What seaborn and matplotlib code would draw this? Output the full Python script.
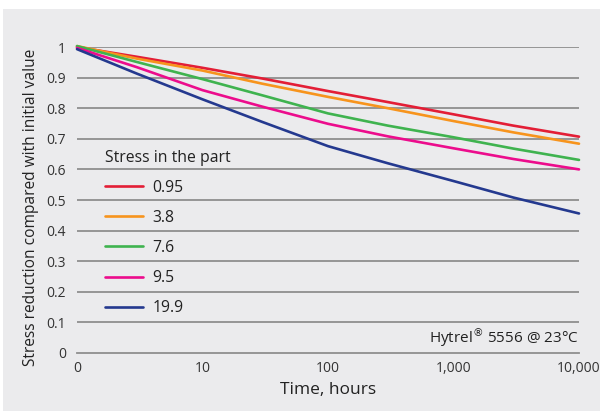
import numpy as np
import pandas as pd
import seaborn as sns
import matplotlib.pyplot as plt
from matplotlib.patches import Rectangle

# data (time in hours, log axis; "0" sits at t=1)
hours = [1, 3, 10, 30, 100, 300, 1000, 3000, 10000]
stress_levels = ["0.95", "3.8", "7.6", "9.5", "19.9"]
ratio_095 = [1.000, 0.968, 0.932, 0.897, 0.856, 0.820, 0.780, 0.743, 0.707]
ratio_38 = [1.003, 0.962, 0.923, 0.880, 0.837, 0.800, 0.758, 0.721, 0.684]
ratio_76 = [1.003, 0.951, 0.895, 0.842, 0.783, 0.743, 0.705, 0.668, 0.631]
ratio_95 = [0.997, 0.934, 0.859, 0.805, 0.749, 0.708, 0.669, 0.634, 0.600]
ratio_199 = [0.993, 0.913, 0.829, 0.755, 0.676, 0.620, 0.562, 0.508, 0.456]
xtick_vals = [1, 10, 100, 1000, 10000]
xtick_labels = ["0", "10", "100", "1,000", "10,000"]
ytick_vals = [0, 0.1, 0.2, 0.3, 0.4, 0.5, 0.6, 0.7, 0.8, 0.9, 1.0]
ytick_labels = ["0", "0.1", "0.2", "0.3", "0.4", "0.5", "0.6", "0.7", "0.8", "0.9", "1"]

colors = ["#e31e36", "#f7941d", "#3fb34f", "#ec0c8c", "#24398f"]

series = [ratio_095, ratio_38, ratio_76, ratio_95, ratio_199]
df = pd.concat([
    pd.DataFrame({"hours": hours, "ratio": vals, "stress": s})
    for s, vals in zip(stress_levels, series)
])

bg = "#ebebed"
txt = "#222222"
sns.set_style("white", {"axes.facecolor": bg})
plt.rcParams["font.family"] = ["Open Sans", "DejaVu Sans"]
plt.rcParams["mathtext.fontset"] = "dejavusans"

fig = plt.figure(figsize=(6.0, 4.11), dpi=100, facecolor=bg)
# white strip at top and left edge
fig.patches.append(Rectangle((0, 1 - 9 / 411), 1, 9 / 411, transform=fig.transFigure,
                             facecolor="white", edgecolor="none", zorder=0))
fig.patches.append(Rectangle((0, 0), 3 / 600, 1, transform=fig.transFigure,
                             facecolor="white", edgecolor="none", zorder=0))

ax = fig.add_axes([77 / 600, 1 - 353 / 411, 502 / 600, 306 / 411])
ax.set_facecolor(bg)

sns.lineplot(data=df, x="hours", y="ratio", hue="stress", hue_order=stress_levels,
             palette=dict(zip(stress_levels, colors)), linewidth=1.9, ax=ax,
             legend=True)
for ln in ax.lines:
    ln.set_clip_on(False)

ax.set_xscale("log")
ax.set_xlim(1, 10000)
ax.set_ylim(0, 1)

# horizontal grid
for v in ytick_vals[1:]:
    ax.axhline(v, color="#8e8e8e", linewidth=1.3, zorder=0.5)

for side in ["top", "right", "left"]:
    ax.spines[side].set_visible(False)
ax.spines["bottom"].set_color("#8e8e8e")
ax.spines["bottom"].set_linewidth(1.3)

ax.set_xticks(xtick_vals)
ax.set_xticklabels(xtick_labels)
ax.xaxis.set_minor_locator(plt.NullLocator())
ax.tick_params(axis="x", direction="out", length=4, width=1.1, color="#8e8e8e",
               labelsize=10, labelcolor="#333333", pad=2)
ax.set_yticks(ytick_vals)
ax.set_yticklabels(ytick_labels)
ax.tick_params(axis="y", length=0, labelsize=10, labelcolor="#333333", pad=8)

ax.set_xlabel("Time, hours", fontsize=12.5, color=txt, labelpad=4)
ax.set_ylabel("Stress reduction compared with initial value", fontsize=11.2,
              color=txt)
ax.yaxis.set_label_coords(-0.076, 0.475)

handles, labels = ax.get_legend_handles_labels()
leg = ax.legend(handles, labels, title="Stress in the part", frameon=False,
                loc="upper left", bbox_to_anchor=(0.056, 0.665), fontsize=11.3,
                title_fontsize=11.3, handlelength=2.4, handletextpad=0.6,
                labelspacing=0.9, alignment="left", borderaxespad=0,
                borderpad=0)
for t in leg.get_texts():
    t.set_color(txt)
leg.get_title().set_color(txt)

ax.text(10000, 0.012, "Hytrel$^{\u00ae}$ 5556 @ 23°C", ha="right", va="bottom",
        fontsize=11, color=txt)

fig.savefig("out.png", dpi=100, facecolor=bg)
